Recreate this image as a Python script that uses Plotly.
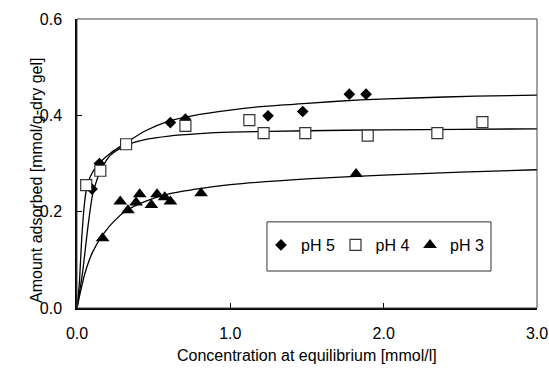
import plotly.graph_objects as go

# ---- measured points ----
ph5_x = [0.098, 0.146, 0.609, 0.707, 1.246, 1.472, 1.776, 1.885]
ph5_y = [0.247, 0.300, 0.385, 0.392, 0.399, 0.408, 0.444, 0.444]

ph4_x = [0.060, 0.152, 0.320, 0.707, 1.124, 1.217, 1.489, 1.896, 2.350, 2.644]
ph4_y = [0.255, 0.285, 0.340, 0.378, 0.390, 0.363, 0.363, 0.358, 0.363, 0.386]

ph3_x = [0.167, 0.282, 0.332, 0.385, 0.409, 0.485, 0.522, 0.572, 0.609, 0.809, 1.820]
ph3_y = [0.145, 0.221, 0.203, 0.219, 0.236, 0.214, 0.236, 0.230, 0.221, 0.238, 0.278]

# ---- fitted curves ----
fit5_x = [0, 0.015, 0.03, 0.045, 0.06, 0.087, 0.14, 0.22, 0.32, 0.44, 0.6, 0.8, 1.0, 1.2, 1.5, 1.85, 2.2, 2.6, 3.0]
fit5_y = [0, 0.05, 0.14, 0.205, 0.243, 0.273, 0.299, 0.322, 0.343, 0.367, 0.388, 0.402, 0.411, 0.418, 0.425, 0.432, 0.436, 0.440, 0.442]

fit4_x = [0, 0.02, 0.037, 0.069, 0.102, 0.152, 0.22, 0.32, 0.45, 0.6, 0.8, 1.0, 1.5, 2.0, 2.5, 3.0]
fit4_y = [0, 0.04, 0.075, 0.163, 0.236, 0.285, 0.318, 0.338, 0.350, 0.357, 0.362, 0.365, 0.368, 0.370, 0.371, 0.372]

fit3_x = [0, 0.02, 0.05, 0.1, 0.17, 0.25, 0.33, 0.45, 0.6, 0.8, 1.0, 1.5, 2.0, 2.5, 3.0]
fit3_y = [0, 0.03, 0.07, 0.115, 0.153, 0.183, 0.204, 0.222, 0.237, 0.248, 0.256, 0.268, 0.276, 0.282, 0.287]

x_ticks = [0.0, 1.0, 2.0, 3.0]
y_ticks = [0.0, 0.2, 0.4, 0.6]

x_title = "Concentration at equilibrium [mmol/l]"
y_title = "Amount adsorbed [mmol/g-dry gel]"

FONT = "Arial, Liberation Sans, sans-serif"

fig = go.Figure()

for fx, fy in [(fit5_x, fit5_y), (fit4_x, fit4_y), (fit3_x, fit3_y)]:
    fig.add_trace(go.Scatter(x=fx, y=fy, mode="lines", showlegend=False,
                             line=dict(color="black", width=1.3, shape="spline", smoothing=0.6),
                             hoverinfo="skip"))

fig.add_trace(go.Scatter(x=ph5_x, y=ph5_y, mode="markers", name="pH 5",
                         marker=dict(symbol="diamond", size=9, color="black",
                                     line=dict(width=0))))
fig.add_trace(go.Scatter(x=ph4_x, y=ph4_y, mode="markers", name="pH 4",
                         marker=dict(symbol="square", size=11, color="white",
                                     line=dict(width=1.2, color="#333333"))))
fig.add_trace(go.Scatter(x=ph3_x, y=ph3_y, mode="markers", name="pH 3",
                         marker=dict(symbol="triangle-up", size=12, color="black",
                                     line=dict(width=0))))

fig.update_layout(
    width=549, height=368,
    margin=dict(l=77, r=12, t=19, b=60),
    paper_bgcolor="white", plot_bgcolor="white",
    font=dict(family=FONT, size=16, color="black"),
    showlegend=True,
    legend=dict(orientation="h", x=0.40, y=0.218, xanchor="left", yanchor="middle",
                bgcolor="rgba(0,0,0,0)", borderwidth=0,
                font=dict(family=FONT, size=16, color="black"),
                itemwidth=30, entrywidth=29.5, entrywidthmode="pixels"),
    xaxis=dict(range=[0, 3], tickvals=x_ticks, ticktext=[f"{v:.1f}" for v in x_ticks],
               showgrid=False, zeroline=False, showline=True, linecolor="black", linewidth=2,
               ticks="inside", ticklen=5, tickcolor="black", automargin=False,
               tickfont=dict(size=16), ticklabelstandoff=10),
    yaxis=dict(range=[0, 0.6], tickvals=y_ticks, ticktext=[f"{v:.1f}" for v in y_ticks],
               showgrid=False, zeroline=False, showline=True, linecolor="black", linewidth=1.5,
               ticks="inside", ticklen=5, tickcolor="black", automargin=False,
               tickfont=dict(size=16), ticklabelstandoff=10),
    annotations=[
        dict(text=x_title, xref="paper", yref="paper", x=0.5, y=-0.166,
             xanchor="center", yanchor="middle", showarrow=False, font=dict(size=16)),
        dict(text=y_title, xref="paper", yref="paper", x=-0.087, y=0.443,
             xanchor="center", yanchor="middle", showarrow=False, textangle=-90,
             font=dict(size=16)),
    ],
    shapes=[
        dict(type="rect", xref="paper", yref="paper", x0=0, x1=1, y0=0, y1=1,
             line=dict(color="#444444", width=1), fillcolor="rgba(0,0,0,0)", layer="above"),
        dict(type="rect", xref="paper", yref="paper", x0=0.413, x1=0.9, y0=0.128, y1=0.298,
             line=dict(color="#333333", width=1), fillcolor="white", layer="below"),
    ],
)

fig.write_html("out.html", config={"displayModeBar": False},
               post_script="document.body.style.margin='0';document.body.style.overflow='hidden';")
